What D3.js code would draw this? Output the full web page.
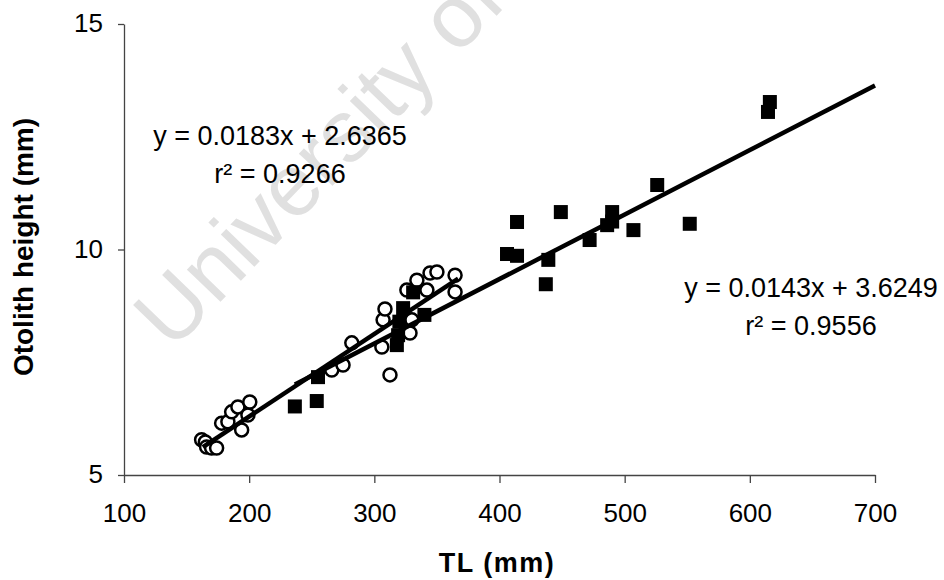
<!DOCTYPE html>
<html>
<head>
<meta charset="utf-8">
<script src="https://cdn.jsdelivr.net/npm/d3@7/dist/d3.min.js"></script>
<style>
  html, body { margin: 0; padding: 0; background: #fff; }
  svg { display: block; font-family: "Liberation Sans", Arial, sans-serif; }
</style>
</head>
<body>
<svg id="chart" width="944" height="580"></svg>
<script>
// Juvenile fish (open circles): total length (mm) vs otolith height (mm)
const circleTL = [162, 165, 166, 170, 174, 178, 183, 186, 191, 194, 199, 200.5,
  266, 275, 282, 306, 307, 308.5, 312.5, 326, 328.5, 330, 334, 342, 344.5, 350, 364.5, 364.5];
const circleOH = [5.78, 5.73, 5.62, 5.60, 5.60, 6.15, 6.18, 6.40, 6.51, 6.00, 6.33, 6.62,
  7.33, 7.44, 7.93, 7.84, 8.44, 8.68, 7.22, 9.10, 8.15, 8.44, 9.32, 9.10, 9.48, 9.50, 9.43, 9.06];

// Adult fish (filled squares)
const squareTL = [236.5, 254, 255, 318, 319, 320, 323, 331, 340, 406, 414, 414, 437, 439,
  449, 472, 486, 490, 490, 507, 526, 552, 614.5, 616];
const squareOH = [6.52, 6.64, 7.17, 7.88, 8.10, 8.40, 8.70, 9.05, 8.55, 9.90, 9.86, 10.61, 9.23, 9.77,
  10.83, 10.21, 10.54, 10.62, 10.83, 10.43, 11.43, 10.57, 13.05, 13.27];

// Linear fits: slope, intercept, r², x extent of the drawn line
const fitCircles = { slope: 0.0183, intercept: 2.6365, r2: "0.9266", from: 163, to: 367 };
const fitSquares = { slope: 0.0143, intercept: 3.6249, r2: "0.9556", from: 236.5, to: 700 };

const xTicks = [100, 200, 300, 400, 500, 600, 700];
const yTicks = [5, 10, 15];

const svg = d3.select("#chart");

const x = d3.scaleLinear().domain([100, 700]).range([124, 875]);
const y = d3.scaleLinear().domain([5, 15]).range([475, 24]);

// Faint watermark behind the plot
svg.append("text")
  .attr("transform", "translate(172,352) rotate(-46)")
  .attr("font-size", 88)
  .attr("fill", "#e0e0e0")
  .text("University of");

// Axes
const xAxis = d3.axisBottom(x).tickValues(xTicks).tickSize(8).tickSizeOuter(0).tickPadding(21);
const yAxis = d3.axisLeft(y).tickValues(yTicks).tickSize(6).tickSizeOuter(0).tickPadding(15);

const gx = svg.append("g").attr("transform", `translate(0,${y(5)})`).call(xAxis);
const gy = svg.append("g").attr("transform", `translate(${x(100)},0)`).call(yAxis);

[gx, gy].forEach(g => {
  g.select(".domain").attr("stroke", "#444").attr("stroke-width", 1.3);
  g.selectAll(".tick line").attr("stroke", "#444").attr("stroke-width", 1.3);
  g.selectAll(".tick text")
    .attr("font-family", "'Liberation Sans', Arial, sans-serif")
    .attr("font-size", 26)
    .attr("fill", "#000");
});
gy.selectAll(".tick text").attr("dy", "0.3em");

// Axis titles
svg.append("text")
  .attr("x", 497).attr("y", 572)
  .attr("text-anchor", "middle")
  .attr("font-size", 27).attr("font-weight", "bold")
  .attr("letter-spacing", 1.5)
  .text("TL (mm)");

svg.append("text")
  .attr("transform", "translate(33,247) rotate(-90)")
  .attr("text-anchor", "middle")
  .attr("font-size", 28).attr("font-weight", "bold")
  .text("Otolith height (mm)");

// Open circles
const circles = circleTL.map((d, i) => ({ tl: d, oh: circleOH[i] }));
svg.append("g").selectAll("circle").data(circles).join("circle")
  .attr("cx", d => x(d.tl)).attr("cy", d => y(d.oh))
  .attr("r", 6.5)
  .attr("fill", "#fff").attr("stroke", "#000").attr("stroke-width", 2.5);

// Filled squares
const side = 14;
const squares = squareTL.map((d, i) => ({ tl: d, oh: squareOH[i] }));
svg.append("g").selectAll("rect").data(squares).join("rect")
  .attr("x", d => x(d.tl) - side / 2).attr("y", d => y(d.oh) - side / 2)
  .attr("width", side).attr("height", side)
  .attr("fill", "#000");

// Trend lines
[fitCircles, fitSquares].forEach(f => {
  svg.append("line")
    .attr("x1", x(f.from)).attr("y1", y(f.slope * f.from + f.intercept))
    .attr("x2", x(f.to)).attr("y2", y(f.slope * f.to + f.intercept))
    .attr("stroke", "#000").attr("stroke-width", 4.5);
});

// Equation labels
function equation(f, cx, baseline) {
  const g = svg.append("g").attr("font-size", 27).attr("text-anchor", "middle").attr("fill", "#000");
  g.append("text").attr("x", cx).attr("y", baseline)
    .text(`y = ${f.slope}x + ${f.intercept}`);
  g.append("text").attr("x", cx).attr("y", baseline + 38)
    .text(`r² = ${f.r2}`);
}
equation(fitCircles, 280, 145);
equation(fitSquares, 811, 297);
</script>
</body>
</html>
